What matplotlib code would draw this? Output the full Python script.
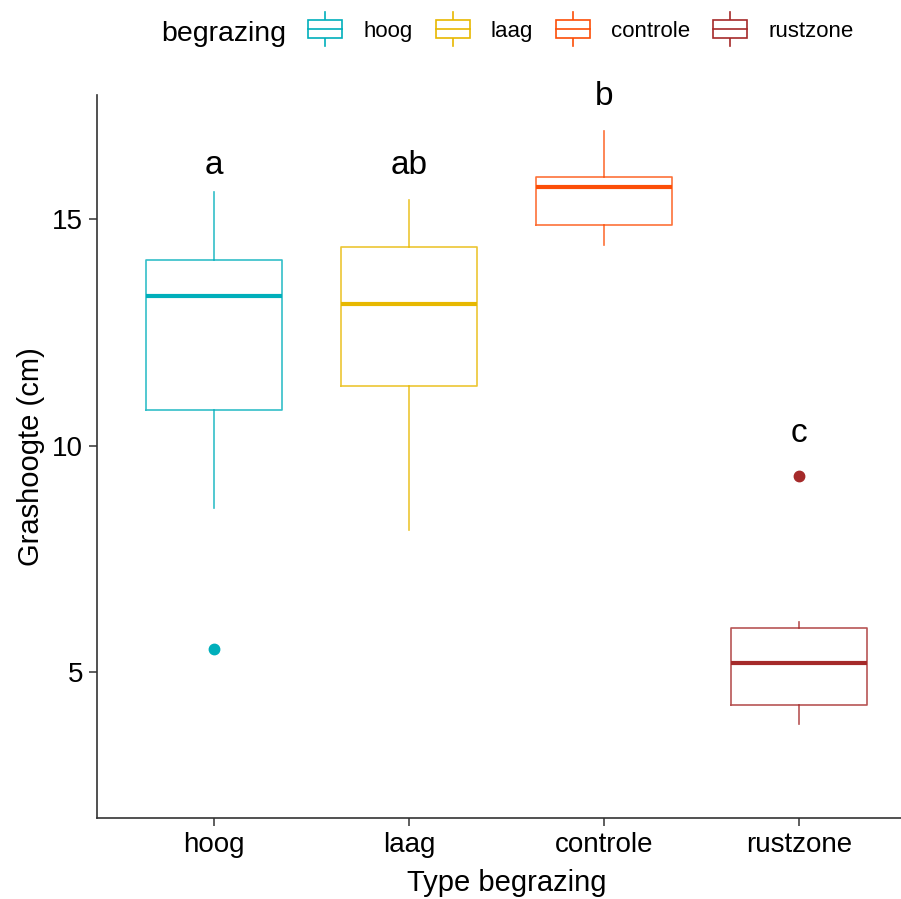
import matplotlib
matplotlib.use("Agg")
import matplotlib.pyplot as plt
from matplotlib.patches import Rectangle
from matplotlib.lines import Line2D
from matplotlib.legend_handler import HandlerBase

plt.rcParams['font.family'] = ['Liberation Sans', 'DejaVu Sans']

# Grazing types and summary statistics of grass height (cm)
categories = ["hoog", "laag", "controle", "rustzone"]
whisker_low = [8.62, 8.13, 14.43, 3.85]
q1 = [10.78, 11.31, 14.87, 4.27]
medians = [13.30, 13.12, 15.71, 5.20]
q3 = [14.10, 14.38, 15.93, 5.97]
whisker_high = [15.60, 15.42, 16.94, 6.10]
outliers = [[5.51], [], [], [9.33]]

# Significance letters and their label heights
letters = ["a", "ab", "b", "c"]
letter_y = [16.0, 16.0, 17.52, 10.09]

colors = ["#00AFBB", "#E7B800", "#FC4E07", "#A52A2A"]

W, H, DPI = 901, 899, 100
fig = plt.figure(figsize=(W / DPI, H / DPI), dpi=DPI)

ax_left, ax_bottom, ax_right, ax_top = 97, 81, 916, 804
ax = fig.add_axes([ax_left / W, ax_bottom / H, (ax_right - ax_left) / W,
                   (ax_top - ax_bottom) / H])

positions = list(range(1, len(categories) + 1))
for i, cat in enumerate(categories):
    stats = [dict(med=medians[i], q1=q1[i], q3=q3[i], whislo=whisker_low[i],
                  whishi=whisker_high[i], fliers=outliers[i], label=cat)]
    c = colors[i]
    ax.bxp(stats, positions=[positions[i]], widths=0.7, showcaps=False,
           boxprops=dict(color=c, linewidth=1.2, alpha=0.8),
           whiskerprops=dict(color=c, linewidth=1.2, alpha=0.8),
           medianprops=dict(color=c, linewidth=3.0, solid_capstyle='butt'),
           flierprops=dict(marker='o', markerfacecolor=c, markeredgecolor=c,
                           markersize=7.5, linestyle='none'),
           manage_ticks=False)
    ax.text(positions[i], letter_y[i], letters[i], ha='center', va='baseline',
            fontsize=24, color='black')

ax.set_xlim(0.4, 4.6)
ax.set_ylim(1.78, 17.74)
ax.set_xticks(positions)
ax.set_xticklabels(categories)
ax.set_yticks([5, 10, 15])
ax.tick_params(axis='both', labelsize=20, length=6, width=1.1, color='#333333',
               labelcolor='black', pad=4)
for side in ['top', 'right']:
    ax.spines[side].set_visible(False)
for side in ['left', 'bottom']:
    ax.spines[side].set_color('#333333')
    ax.spines[side].set_linewidth(1.2)
ax.set_xlabel("Type begrazing", fontsize=21, labelpad=8)
ax.set_ylabel("Grashoogte (cm)", fontsize=21, labelpad=5)


class BoxKeyHandler(HandlerBase):
    def create_artists(self, legend, orig_handle, xdescent, ydescent, width,
                       height, fontsize, trans):
        c = orig_handle.get_color()
        cx = -xdescent + width / 2
        by = -ydescent
        bh = height
        wl = height * 0.45
        lw = 1.2
        rect = Rectangle((-xdescent, by), width, bh, facecolor='white',
                         edgecolor=c, linewidth=lw, transform=trans)
        med = Line2D([-xdescent, -xdescent + width], [by + bh / 2] * 2,
                     color=c, linewidth=lw, transform=trans)
        up = Line2D([cx, cx], [by + bh, by + bh + wl], color=c, linewidth=lw,
                    transform=trans)
        lo = Line2D([cx, cx], [by, by - wl], color=c, linewidth=lw,
                    transform=trans)
        return [up, lo, rect, med]


handles = [Line2D([], [], color=c) for c in colors]
fig.text(161 / W, 1 - 41 / H, "begrazing", fontsize=20.5, ha='left',
         va='baseline')
fig.legend(handles, categories, handler_map={Line2D: BoxKeyHandler()},
           loc='center left', bbox_to_anchor=(304 / W, 1 - 31 / H), ncol=4,
           frameon=False, fontsize=16, handlelength=1.53, handleheight=0.86,
           handletextpad=0.95, columnspacing=1.03, borderaxespad=0,
           borderpad=0.2)

fig.savefig("out.png", dpi=DPI, facecolor='white')
